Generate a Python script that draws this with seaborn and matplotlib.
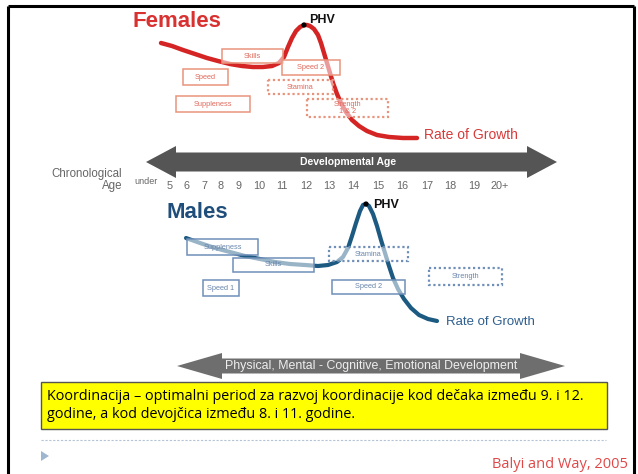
import matplotlib
matplotlib.use("Agg")
import matplotlib.pyplot as plt
import seaborn as sns
import pandas as pd
from matplotlib.patches import Rectangle, Polygon

# ---------------- data ----------------
age_labels = ["5", "6", "7", "8", "9", "10", "11", "12", "13", "14", "15", "16", "17", "18", "19", "20+"]

female_x = [161, 172, 183, 195, 207, 218, 230, 242, 253, 263, 272, 279, 284, 288, 292, 296, 300, 304, 307,
            310, 314, 318, 321, 324, 327, 330, 333, 337, 341, 346, 352, 359, 367, 377, 389, 403, 417]
female_y = [43, 46, 50, 54, 58, 61, 64, 66, 67, 67, 66, 63, 57, 47, 38, 31, 27, 25, 25,
            26, 29, 35, 43, 53, 63, 73, 83, 94, 103, 112, 120, 126, 131, 135, 137, 138, 138]

male_x = [186, 200, 215, 230, 245, 260, 275, 290, 305, 318, 328, 337, 343, 348, 352, 356, 360, 363, 366,
          369, 373, 377, 381, 385, 389, 393, 398, 404, 411, 419, 428, 437]
male_y = [238, 243, 248, 252, 256, 259, 262, 264, 265, 266, 265, 262, 257, 248, 236, 223, 211, 205, 204,
          206, 214, 226, 240, 253, 266, 278, 289, 299, 308, 315, 319, 321]

female_box_labels = ["Skills", "Speed", "Suppleness", "Speed 2", "Stamina", "Strength\n1 & 2"]
female_box_styles = ["solid", "solid", "solid", "solid", "dotted", "dotted"]
male_box_labels = ["Suppleness", "Skills", "Speed 1", "Stamina", "Speed 2", "Strength"]
male_box_styles = ["solid", "solid", "solid", "dotted", "solid", "dotted"]

# ---------------- layout (pixels) ----------------
female_box_pos = [(222, 49, 283, 63), (183, 69, 228, 85), (176, 96, 250, 112),
                  (282, 60, 340, 75), (268, 80, 333, 94), (307, 99, 388, 117)]
male_box_pos = [(187, 239, 258, 255), (233, 258, 314, 272), (203, 280, 239, 296),
                (329, 247, 408, 261), (332, 280, 405, 294), (429, 268, 502, 285)]
age_pos = [170, 187, 204, 221, 239, 259, 282, 306, 329, 353, 378, 402, 427, 450, 474, 500]

W, H = 638, 474
sns.set_theme(style="white")
plt.rcParams["font.family"] = ["Liberation Sans", "DejaVu Sans"]

fig = plt.figure(figsize=(W / 100, H / 100), dpi=100)
ax = fig.add_axes([0, 0, 1, 1])
fig.canvas.draw()
renderer = fig.canvas.get_renderer()


def fit(t, width_px):
    w = t.get_window_extent(renderer).width
    t.set_fontsize(t.get_fontsize() * width_px / w)
    return t


# ---------------- curves ----------------
RED = "#d42424"
BLUE = "#1c5a82"
fdf = pd.DataFrame({"x": female_x, "y": female_y})
mdf = pd.DataFrame({"x": male_x, "y": male_y})
sns.lineplot(data=fdf, x="x", y="y", sort=False, color=RED, lw=3.2, ax=ax, zorder=2,
             solid_capstyle="round", solid_joinstyle="round")
sns.lineplot(data=mdf, x="x", y="y", sort=False, color=BLUE, lw=3.0, ax=ax, zorder=2,
             solid_capstyle="round", solid_joinstyle="round")
ax.set_xlim(0, W)
ax.set_ylim(H, 0)
ax.axis("off")

# slide frame
ax.plot([8, 8], [H, 6], color="black", lw=2.2, solid_capstyle="butt")
ax.plot([8, 634], [6, 6], color="black", lw=2.2, solid_capstyle="butt")
ax.plot([634, 634], [6, H], color="black", lw=2.2, solid_capstyle="butt")

# PHV dots at curve maxima
fpk = fdf.loc[fdf["y"].idxmin()]
mpk = mdf.loc[mdf["y"].idxmin()]
sns.scatterplot(x=[fpk["x"], mpk["x"]], y=[fpk["y"], mpk["y"]], color="black", s=14,
                ax=ax, zorder=5, edgecolor="none")
ax.text(fpk["x"] + 5, fpk["y"] - 5, "PHV", fontsize=9, fontweight="bold", color="#111111",
        ha="left", va="center")
ax.text(mpk["x"] + 7, mpk["y"] + 1, "PHV", fontsize=9, fontweight="bold", color="#111111",
        ha="left", va="center")

# titles
ax.text(132, 21, "Females", fontsize=16, fontweight="bold", color="#d93030", ha="left", va="center")
ax.text(167, 212, "Males", fontsize=16, fontweight="bold", color="#1f4e7a", ha="left", va="center")

ax.text(female_x[-1] + 7, female_y[-1] - 3, "Rate of Growth", fontsize=10, color="#d83a3a",
        ha="left", va="center")
ax.text(male_x[-1] + 9, male_y[-1] + 1, "Rate of Growth", fontsize=9.5, color="#2f5f8f",
        ha="left", va="center")


# ---------------- boxes ----------------
def draw_boxes(labels, styles, pos, edge, tcol):
    for lab, st, (x0, y0, x1, y1) in zip(labels, styles, pos):
        ls = (0, (1, 1.2)) if st == "dotted" else "-"
        lw = 1.6 if st == "dotted" else 1.1
        ax.add_patch(Rectangle((x0, y0), x1 - x0, y1 - y0, facecolor=(1, 1, 1, 0.55),
                               edgecolor=edge, lw=lw, linestyle=ls, zorder=3))
        ax.text((x0 + x1) / 2, (y0 + y1) / 2, lab, fontsize=5.3, color=tcol, ha="center",
                va="center", zorder=4, linespacing=1.0)


draw_boxes(female_box_labels, female_box_styles, female_box_pos, "#e8947c", "#e06a5c")
draw_boxes(male_box_labels, male_box_styles, male_box_pos, "#6f8fb8", "#6a86ad")


# ---------------- arrows ----------------
def double_arrow(xl, xr, yc, hb, hh, L, color):
    pts = [(xl, yc), (xl + L, yc - hh), (xl + L, yc - hb), (xr - L, yc - hb), (xr - L, yc - hh),
           (xr, yc), (xr - L, yc + hh), (xr - L, yc + hb), (xl + L, yc + hb), (xl + L, yc + hh)]
    ax.add_patch(Polygon(pts, closed=True, facecolor=color, edgecolor="none", zorder=2))


double_arrow(146, 557, 162, 9.5, 16, 30, "#555555")
ax.text(348, 162, "Developmental Age", fontsize=7.5, fontweight="bold", color="white",
        ha="center", va="center", zorder=4)

double_arrow(177, 565, 366, 7.5, 13, 45, "#6e6e6e")
t = ax.text(371, 366, "Physical, Mental - Cognitive, Emotional Development", fontsize=8.5,
            color="#eeeeee", ha="center", va="center", zorder=4)
fit(t, 292)

# chronological age axis labels
ax.text(122, 174, "Chronological", fontsize=8.3, color="#666666", ha="right", va="center")
ax.text(122, 186, "Age", fontsize=8.3, color="#666666", ha="right", va="center")
ax.text(146, 182, "under", fontsize=6.5, color="#666666", ha="center", va="center")
for lab, xp in zip(age_labels, age_pos):
    ax.text(xp, 186, lab, fontsize=7.8, color="#666666", ha="center", va="center")

# ---------------- yellow note ----------------
ax.add_patch(Rectangle((41, 382), 566, 47, facecolor="#ffff00", edgecolor="#555555", lw=1.0, zorder=2))
t1 = ax.text(47, 397, "Koordinacija – optimalni period za razvoj koordinacije kod dečaka između 9. i 12.",
             fontsize=11, color="black", ha="left", va="center", family=["Open Sans", "DejaVu Sans"],
             zorder=3)
fs = fit(t1, 538).get_fontsize()
ax.text(47, 415, "godine, a kod devojčica između 8. i 11. godine.", fontsize=fs, color="black",
        ha="left", va="center", family=["Open Sans", "DejaVu Sans"], zorder=3)

# separator + bullet + source
ax.plot([41, 606], [440, 440], color="#b4c4d4", lw=0.8, linestyle=(0, (2, 1.5)))
ax.add_patch(Polygon([(41, 451), (41, 461), (49, 456)], closed=True, facecolor="#9fb6d0",
                     edgecolor="none"))
t2 = ax.text(628, 465, "Balyi and Way, 2005", fontsize=11, color="#e04848", ha="right",
             va="center", family=["Open Sans", "DejaVu Sans"])
fit(t2, 136)

fig.savefig("out.png", dpi=100)
